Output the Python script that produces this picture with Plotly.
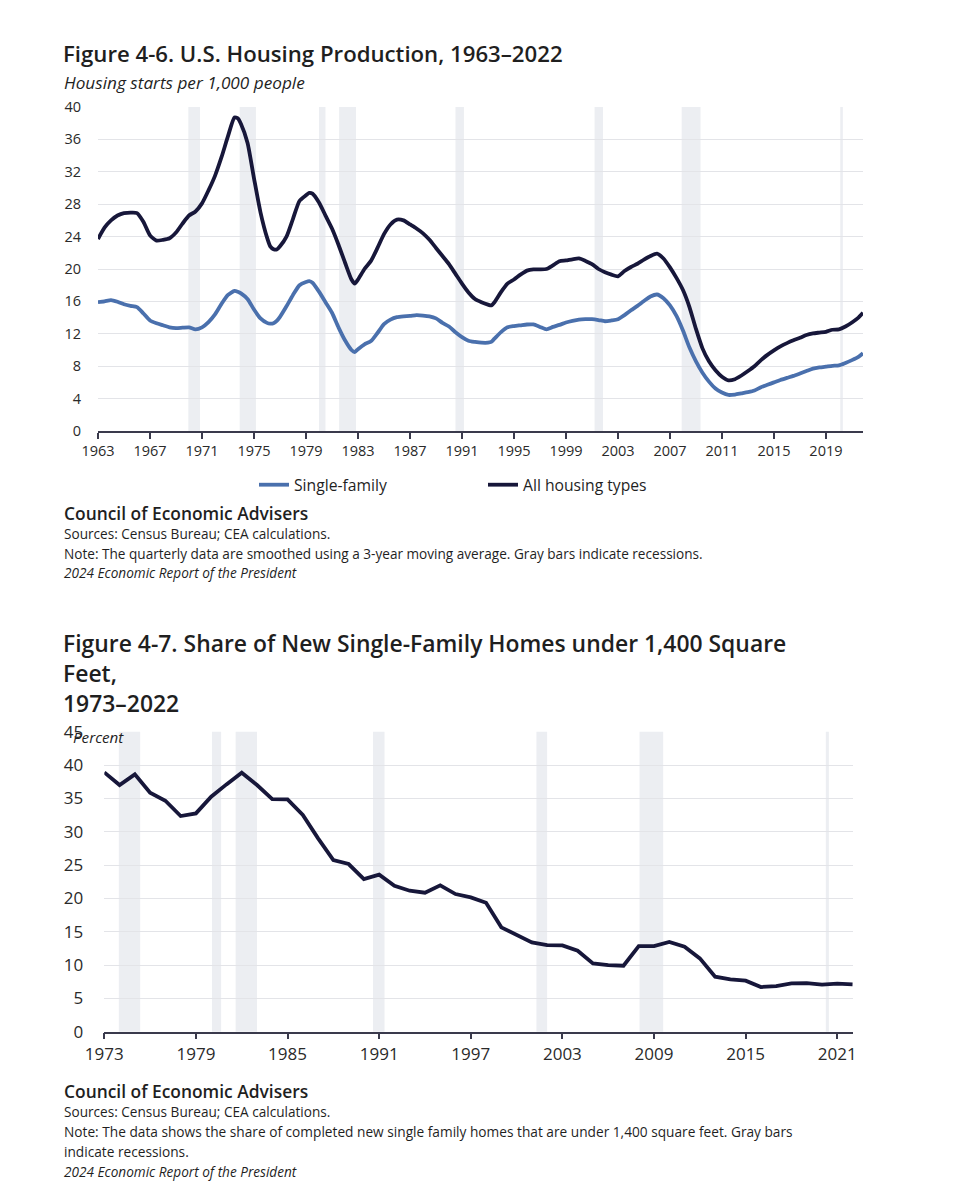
import plotly.graph_objects as go

# ---------------- Data: Figure 4-6 ----------------
years_top = [1963.0, 1963.5, 1964.0, 1964.5, 1965.0, 1965.5, 1966.0, 1966.5, 1967.0, 1967.5,
             1968.0, 1968.5, 1969.0, 1969.5, 1970.0, 1970.5, 1971.0, 1971.5, 1972.0, 1972.5,
             1973.0, 1973.5, 1973.75, 1974.0, 1974.5, 1975.0, 1975.5, 1976.0, 1976.25, 1976.5,
             1976.75, 1977.0, 1977.5, 1978.0, 1978.5, 1979.0, 1979.25, 1979.5, 1980.0, 1980.5,
             1981.0, 1981.5, 1982.0, 1982.5, 1982.75, 1983.0, 1983.5, 1984.0, 1984.5, 1985.0,
             1985.5, 1986.0, 1986.5, 1987.0, 1987.5, 1988.0, 1988.5, 1989.0, 1989.5, 1990.0,
             1990.5, 1991.0, 1991.5, 1992.0, 1992.5, 1993.0, 1993.25, 1993.5, 1994.0, 1994.5,
             1995.0, 1995.5, 1996.0, 1996.5, 1997.0, 1997.5, 1998.0, 1998.5, 1999.0, 1999.5,
             2000.0, 2000.5, 2001.0, 2001.5, 2002.0, 2002.5, 2003.0, 2003.5, 2004.0, 2004.5,
             2005.0, 2005.5, 2006.0, 2006.5, 2007.0, 2007.5, 2008.0, 2008.5, 2009.0, 2009.5,
             2010.0, 2010.5, 2011.0, 2011.5, 2012.0, 2012.5, 2013.0, 2013.5, 2014.0, 2014.5,
             2015.0, 2015.5, 2016.0, 2016.5, 2017.0, 2017.5, 2018.0, 2018.5, 2019.0, 2019.5,
             2020.0, 2020.5, 2021.0, 2021.5, 2021.85]

single_family = [15.9, 16.0, 16.15, 15.95, 15.65, 15.45, 15.3, 14.5, 13.65, 13.3,
                 13.05, 12.8, 12.7, 12.75, 12.8, 12.55, 12.8, 13.45, 14.4, 15.7,
                 16.8, 17.3, 17.2, 17.0, 16.3, 15.0, 13.9, 13.35, 13.25, 13.3,
                 13.6, 14.1, 15.4, 16.8, 18.0, 18.4, 18.5, 18.3, 17.2, 15.9,
                 14.6, 12.8, 11.2, 10.0, 9.75, 10.1, 10.7, 11.1, 12.1, 13.2,
                 13.75, 14.05, 14.15, 14.2, 14.3, 14.25, 14.15, 13.9, 13.35, 12.9,
                 12.2, 11.6, 11.15, 11.0, 10.9, 10.9, 11.0, 11.4, 12.2, 12.8,
                 12.95, 13.05, 13.15, 13.15, 12.85, 12.55, 12.85, 13.1, 13.4, 13.6,
                 13.75, 13.8, 13.8, 13.7, 13.55, 13.65, 13.8, 14.3, 14.9, 15.45,
                 16.05, 16.6, 16.85, 16.4, 15.5, 14.2, 12.4, 10.3, 8.6, 7.2,
                 6.1, 5.25, 4.75, 4.45, 4.5, 4.65, 4.8, 5.0, 5.4, 5.7,
                 6.0, 6.3, 6.55, 6.8, 7.1, 7.4, 7.7, 7.85, 7.95, 8.05,
                 8.1, 8.4, 8.75, 9.15, 9.6]

all_housing = [23.7, 25.1, 26.0, 26.6, 26.9, 26.95, 26.9, 25.8, 24.15, 23.5,
               23.6, 23.8, 24.5, 25.6, 26.6, 27.1, 28.1, 29.7, 31.5, 33.8,
               36.4, 38.7, 38.6, 37.9, 35.6, 31.2, 27.0, 23.9, 22.8, 22.45,
               22.4, 22.8, 24.0, 26.2, 28.4, 29.1, 29.4, 29.3, 28.2, 26.6,
               25.0, 23.0, 20.8, 18.7, 18.2, 18.7, 20.0, 21.0, 22.6, 24.3,
               25.5, 26.1, 26.0, 25.5, 25.0, 24.4, 23.6, 22.6, 21.6, 20.6,
               19.4, 18.2, 17.1, 16.3, 15.9, 15.6, 15.5, 15.9, 17.15, 18.2,
               18.7, 19.3, 19.8, 19.95, 19.95, 20.0, 20.45, 20.95, 21.05, 21.2,
               21.3, 21.0, 20.6, 20.0, 19.6, 19.3, 19.1, 19.75, 20.25, 20.65,
               21.15, 21.6, 21.9, 21.3, 20.2, 18.9, 17.4, 15.3, 12.6, 10.2,
               8.6, 7.5, 6.7, 6.25, 6.4, 6.85, 7.4, 8.0, 8.75, 9.4,
               9.95, 10.45, 10.85, 11.2, 11.5, 11.85, 12.05, 12.15, 12.25, 12.5,
               12.55, 12.9, 13.4, 14.0, 14.6]

top_xticks = [1963, 1967, 1971, 1975, 1979, 1983, 1987, 1991, 1995, 1999, 2003, 2007, 2011, 2015, 2019]
top_yticks = [0, 4, 8, 12, 16, 20, 24, 28, 32, 36, 40]
rec_top_start = [1969.95, 1973.9, 1980.0, 1981.55, 1990.5, 2001.2, 2007.9, 2020.1]
rec_top_end = [1970.85, 1975.15, 1980.5, 1982.85, 1991.15, 2001.85, 2009.35, 2020.3]

# ---------------- Data: Figure 4-7 ----------------
years_bottom = [1973, 1974, 1975, 1976, 1977, 1978, 1979, 1980, 1981, 1982,
                1983, 1984, 1985, 1986, 1987, 1988, 1989, 1990, 1991, 1992,
                1993, 1994, 1995, 1996, 1997, 1998, 1999, 2000, 2001, 2002,
                2003, 2004, 2005, 2006, 2007, 2008, 2009, 2010, 2011, 2012,
                2013, 2014, 2015, 2016, 2017, 2018, 2019, 2020, 2021, 2022]
share_small = [38.9, 37.0, 38.6, 35.85, 34.65, 32.35, 32.75, 35.25, 37.1, 38.85,
               37.0, 34.9, 34.85, 32.5, 29.0, 25.75, 25.15, 22.9, 23.55, 21.9,
               21.15, 20.85, 21.95, 20.65, 20.15, 19.35, 15.65, 14.5, 13.4, 13.0,
               12.95, 12.15, 10.25, 10.0, 9.9, 12.85, 12.85, 13.45, 12.75, 11.0,
               8.25, 7.85, 7.65, 6.7, 6.85, 7.25, 7.3, 7.05, 7.2, 7.1]
bottom_xticks = [1973, 1979, 1985, 1991, 1997, 2003, 2009, 2015, 2021]
bottom_yticks = [0, 5, 10, 15, 20, 25, 30, 35, 40, 45]
rec_bot_start = [1973.95, 1980.05, 1981.6, 1990.6, 2001.3, 2008.05, 2020.25]
rec_bot_end = [1975.35, 1980.65, 1983.0, 1991.35, 2002.0, 2009.6, 2020.45]

# ---------------- Style ----------------
PAGE_OFF = 8           # default page body margin
W, H = 970 - PAGE_OFF, 1200 - PAGE_OFF
FONT = "Open Sans"
NAVY = "#17173a"
BLUE = "#4a70ad"
GRID = "#e3e4e8"
RECESSION = "#eceef2"
AXIS = "#3a3a4c"
TXT = "#1f1f1f"


def fx(p):
    return (p - PAGE_OFF) / W


def fy(p):
    return 1 - (p - PAGE_OFF) / H


fig = go.Figure()
fig.add_trace(go.Scatter(x=years_top, y=single_family, name="Single-family", mode="lines",
                         line=dict(color=BLUE, width=3.8, shape="spline", smoothing=0.6),
                         xaxis="x", yaxis="y", hoverinfo="skip"))
fig.add_trace(go.Scatter(x=years_top, y=all_housing, name="All housing types", mode="lines",
                         line=dict(color=NAVY, width=3.8, shape="spline", smoothing=0.6),
                         xaxis="x", yaxis="y", hoverinfo="skip"))
fig.add_trace(go.Scatter(x=years_bottom, y=share_small, name="Share under 1,400 sq ft", mode="lines",
                         line=dict(color=NAVY, width=3.8), showlegend=False,
                         xaxis="x2", yaxis="y2", hoverinfo="skip"))

shapes = []
for s, e in zip(rec_top_start, rec_top_end):
    shapes.append(dict(type="rect", xref="x", yref="y domain", x0=s, x1=e, y0=0, y1=1,
                       fillcolor=RECESSION, line=dict(width=0), layer="below"))
for s, e in zip(rec_bot_start, rec_bot_end):
    shapes.append(dict(type="rect", xref="x2", yref="y2 domain", x0=s, x1=e, y0=0, y1=1,
                       fillcolor=RECESSION, line=dict(width=0), layer="below"))

annotations = []


def note(text, x, y, size, weight="normal", style="normal", color=TXT):
    annotations.append(dict(text=text, xref="paper", yref="paper", x=fx(x), y=fy(y),
                            xanchor="left", yanchor="middle", showarrow=False,
                            font=dict(family=FONT, size=size, color=color,
                                      weight=weight, style=style)))


# Figure 4-6 texts
note("Figure 4-6. U.S. Housing Production, 1963–2022", 61, 53, 22.2, weight=600)
note("Housing starts per 1,000 people", 62, 83, 17.2, style="italic")
note("Council of Economic Advisers", 62, 513, 17.4, weight=600)
note("Sources: Census Bureau; CEA calculations.", 62, 533, 13.6)
note("Note: The quarterly data are smoothed using a 3-year moving average. Gray bars indicate recessions.", 62, 553, 13.6)
note("2024 Economic Report of the President", 62, 572, 13.6, style="italic")

# Figure 4-7 texts
note("Figure 4-7. Share of New Single-Family Homes under 1,400 Square", 61, 643, 22.9, weight=600)
note("Feet,", 61, 673, 22.9, weight=600)
note("1973–2022", 61, 703, 22.9, weight=600)
note("Percent", 71, 737, 15.2, style="italic")
note("Council of Economic Advisers", 62, 1091, 17.4, weight=600)
note("Sources: Census Bureau; CEA calculations.", 62, 1111, 13.6)
note("Note: The data shows the share of completed new single family homes that are under 1,400 square feet. Gray bars", 62, 1131, 13.7)
note("indicate recessions.", 62, 1151, 13.7)
note("2024 Economic Report of the President", 62, 1171, 13.6, style="italic")

fig.update_layout(
    width=W, height=H,
    margin=dict(l=0, r=0, t=0, b=0, pad=0, autoexpand=False),
    paper_bgcolor="white", plot_bgcolor="white",
    font=dict(family=FONT, color=TXT),
    showlegend=True,
    legend=dict(orientation="h", x=fx(254), xanchor="left", y=fy(485), yanchor="middle",
                font=dict(family=FONT, size=15.7, color=TXT), bgcolor="rgba(0,0,0,0)",
                entrywidth=184, entrywidthmode="pixels", itemwidth=30, traceorder="normal"),
    xaxis=dict(domain=[fx(98), fx(863)], range=[1963, 2021.85], anchor="y",
               tickvals=top_xticks, ticktext=[str(t) for t in top_xticks],
               showgrid=False, zeroline=False, showline=True, linecolor=AXIS, linewidth=1.5,
               ticks="outside", ticklen=6, tickwidth=1.5, tickcolor=AXIS,
               tickfont=dict(family=FONT, size=14.5, color="#2a2a2a")),
    yaxis=dict(domain=[fy(431), fy(107)], range=[0, 40], anchor="x",
               tickvals=top_yticks, ticktext=[str(t) for t in top_yticks],
               showgrid=True, gridcolor=GRID, gridwidth=1.3, zeroline=False, showline=False,
               ticks="", ticklabelstandoff=16,
               tickfont=dict(family=FONT, size=14.5, color="#2a2a2a")),
    xaxis2=dict(domain=[fx(104.3), fx(853.3)], range=[1973, 2022.05], anchor="y2",
                tickvals=bottom_xticks, ticktext=[str(t) for t in bottom_xticks],
                showgrid=False, zeroline=False, showline=True, linecolor=AXIS, linewidth=1.5,
                ticks="outside", ticklen=6, tickwidth=1.5, tickcolor=AXIS,
                tickfont=dict(family=FONT, size=17, color="#2a2a2a")),
    yaxis2=dict(domain=[fy(1031.7), fy(731.7)], range=[0, 45], anchor="x2",
                tickvals=bottom_yticks, ticktext=[str(t) for t in bottom_yticks],
                showgrid=True, gridcolor=GRID, gridwidth=1.3, zeroline=False, showline=False,
                ticks="", ticklabelstandoff=20,
                tickfont=dict(family=FONT, size=17, color="#2a2a2a")),
    shapes=shapes,
    annotations=annotations,
)

fig.write_html("out.html")
